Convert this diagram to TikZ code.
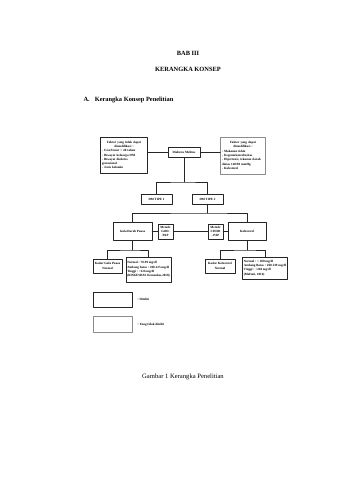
\documentclass[tikz,border=0pt]{standalone}
\usepackage{fontspec}
\setmainfont{Liberation Serif}
\usetikzlibrary{positioning}

\begin{document}
\begin{tikzpicture}[
  x=1pt,y=-1pt,
  line cap=round,
  line join=round,
  every node/.style={font=\fontsize{3.2}{4.3}\selectfont\bfseries,inner sep=1.4pt},
  studied/.style={draw=black!85,line width=.6pt,fill=white},
  notstudied/.style={draw=black!45,line width=.6pt,fill=white},
  link/.style={black!85,line width=.7pt},
  heading/.style={font=\fontsize{6.4}{7.5}\selectfont\bfseries},
  caption/.style={font=\fontsize{6.6}{7.5}\selectfont}
]
% Page frame.
\useasboundingbox (0,0) rectangle (360,480);

% Titles.
\node[heading] (bab) at (188,53) {BAB III};
\node[heading] (judul) at (188,69) {KERANGKA KONSEP};
\node[heading,anchor=west] (sub) at (82,100) {A.\hspace{5pt}Kerangka Konsep Penelitian};

% Risk factors and the disease.
\node[studied,text width=44pt,minimum height=36pt] (fixed) at (124,155)
  {\centering Faktor yang tidak dapat\\ dimodifikasi :\par\raggedright
   - Usia/Umur > 40 tahun\\ - Riwayat keluarga DM\\ - Riwayat diabetes\\
   gestasional\\ - Jenis kelamin\par};
\node[studied,minimum width=32pt,minimum height=10pt] (dm) at (184,152) {Diabetes Melitus};
\node[notstudied,text width=42pt,minimum height=37pt] (modif) at (243,155.5)
  {\centering Faktor yang dapat\\ dimodifikasi :\par\raggedright
   - Makanan tidak\\ - Kegemukan/obesitas\\ - Hipertensi, tekanan darah\\
   diatas 140/90 mmHg\\ - Kolesterol\par};
\draw[link] (dm.west) -- (dm.west -| fixed.east);
\draw[link] (dm.east) -- (dm.east -| modif.west);

% Types.
\node[studied,minimum width=31pt,minimum height=10pt] (tipeone) at (156.5,199) {DM TIPE 1};
\node[studied,minimum width=31pt,minimum height=10pt] (tipetwo) at (207.5,199) {DM TIPE 2};
\coordinate (jdm) at (184,182);
\draw[link] (dm) -- (jdm);
\draw[link] (tipeone) |- (jdm) -| (tipetwo);

% Examinations.
\node[studied,minimum width=39pt,minimum height=18pt] (gula) at (132.5,231.5) {Gula Darah Puasa};
\node[studied,minimum width=15pt,minimum height=15pt,align=center] (god) at (165.5,231.5) {Metode\\ GOD-\\ PAP};
\node[studied,minimum width=15pt,minimum height=15pt,align=center] (chod) at (215.5,231.5) {Metode\\ CHOD\\ - PAP};
\node[studied,minimum width=38pt,minimum height=18pt] (kol) at (247,231.5) {Kolesterol};
\coordinate (jtipe) at (207.5,213);
\draw[link] (tipetwo) -- (jtipe);
\draw[link] (gula) |- (jtipe) -| (kol);
\draw[link] (gula) -- (god);
\draw[link] (god) -- (chod);
\draw[link] (chod) -- (kol);

% Results for glucose.
\node[studied,minimum width=29pt,minimum height=14pt,align=center] (gulanormal) at (107.5,266) {Kadar Gula Puasa\\ Normal};
\node[studied,minimum width=39pt,minimum height=25pt,align=left] (gularange) at (148.5,269.5)
  {Normal : 70-99 mg/dl\\ Ambang batas : 100-125 mg/dl\\ Tinggi : >126 mg/dl\\ (RISKESDAS Kemenkes,2018)};
\coordinate (jgula) at (132.5,250);
\draw[link] (gula) -- (jgula);
\draw[link] (gulanormal) |- (jgula) -| (gularange);

% Results for cholesterol.
\node[studied,minimum width=30pt,minimum height=14pt,align=center] (kolnormal) at (220,266) {Kadar Kolesterol\\ Normal};
\node[studied,minimum width=33pt,minimum height=22pt,align=left] (kolrange) at (265,268)
  {Normal : < 200 mg/dl\\ Ambang Batas : 200-239 mg/dl\\ Tinggi : >240 mg/dl\\ (Maftuti, 2016)};
\coordinate (jkol) at (247,250);
\draw[link] (kol) -- (jkol);
\draw[link] (kolnormal) |- (jkol) -| (kolrange);

% Legend.
\node[studied,minimum width=39pt,minimum height=15pt] (keyone) at (112.5,299.5) {};
\node[anchor=west] (keyonetext) at (136,299.5) {: Diteliti};
\node[notstudied,minimum width=39pt,minimum height=16pt] (keytwo) at (112.5,324.5) {};
\node[anchor=west] (keytwotext) at (136,324.5) {: Yang tidak diteliti};

% Caption.
\node[caption] (gambar) at (183,377) {Gambar 1 Kerangka Penelitian};
\end{tikzpicture}
\end{document}
